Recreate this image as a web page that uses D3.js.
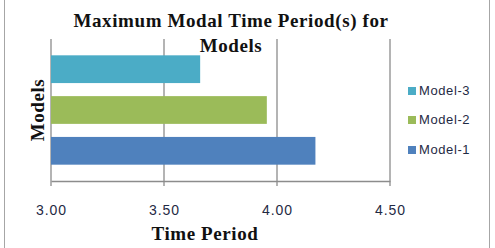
<!DOCTYPE html>
<html>
<head>
<meta charset="utf-8">
<script src="https://cdn.jsdelivr.net/npm/d3@7"></script>
<style>
  body { margin: 0; background: #fff; }
  svg { display: block; }
</style>
</head>
<body>
<svg></svg>
<script>
const models = ["Model-1", "Model-2", "Model-3"];
const periods = [4.17, 3.955, 3.66];
const colors = ["#4F81BD", "#9BBB59", "#4BACC6"];
const xTicks = [3.0, 3.5, 4.0, 4.5];

const width = 495, height = 248;
const margin = {top: 39, right: 105, bottom: 67, left: 51};

const svg = d3.select("svg")
    .attr("width", width)
    .attr("height", height);

// chart frame
svg.append("rect")
    .attr("x", 4.5).attr("y", -2)
    .attr("width", 485).attr("height", 260)
    .attr("fill", "none")
    .attr("stroke", "#a6a6a6")
    .attr("stroke-width", 1);

const x = d3.scaleLinear()
    .domain([3.0, 4.5])
    .range([51, 390]);

const y = d3.scaleBand()
    .domain(models.slice().reverse())
    .range([margin.top, height - margin.bottom])
    .paddingInner(0.32)
    .paddingOuter(0.4);

const plotBottom = height - margin.bottom;

// gridlines
svg.append("g")
    .selectAll("line")
    .data(xTicks)
    .enter()
    .append("line")
    .attr("x1", d => x(d)).attr("x2", d => x(d))
    .attr("y1", margin.top).attr("y2", plotBottom + 5)
    .attr("stroke", "#8c8c8c")
    .attr("stroke-width", 1.3);

// bars
svg.append("g")
    .selectAll("rect")
    .data(models)
    .enter()
    .append("rect")
    .attr("x", x(3.0))
    .attr("y", d => y(d))
    .attr("width", (d, i) => x(periods[i]) - x(3.0))
    .attr("height", y.bandwidth())
    .attr("fill", (d, i) => colors[i]);

// x axis
const xAxis = svg.append("g")
    .attr("transform", "translate(0," + plotBottom + ")")
    .call(d3.axisBottom(x).tickValues(xTicks).tickFormat(d3.format(".2f")).tickSize(0).tickPadding(24));

xAxis.select(".domain")
    .attr("stroke", "#8c8c8c")
    .attr("stroke-width", 1.3);

xAxis.selectAll("text")
    .attr("fill", "#1f2a44")
    .style("font-family", "'Liberation Sans', Arial, sans-serif")
    .style("font-size", "14px")
    .style("letter-spacing", "1px");

const serif = "'Liberation Serif', 'Times New Roman', serif";

// title
const title = svg.append("text")
    .attr("text-anchor", "middle")
    .style("font-family", serif)
    .style("font-weight", "bold")
    .style("font-size", "19px")
    .style("letter-spacing", "0.6px")
    .attr("fill", "#111");
title.append("tspan").attr("x", 231).attr("y", 27).text("Maximum Modal Time Period(s) for");
title.append("tspan").attr("x", 231).attr("y", 52).text("Models");

// axis titles
svg.append("text")
    .attr("x", 205).attr("y", 240)
    .attr("text-anchor", "middle")
    .style("font-family", serif)
    .style("font-weight", "bold")
    .style("font-size", "19px")
    .style("letter-spacing", "0.6px")
    .attr("fill", "#111")
    .text("Time Period");

svg.append("text")
    .attr("transform", "translate(44,110) rotate(-90)")
    .attr("text-anchor", "middle")
    .style("font-family", serif)
    .style("font-weight", "bold")
    .style("font-size", "19px")
    .style("letter-spacing", "0.6px")
    .attr("fill", "#111")
    .text("Models");

// legend
const legendY = [154, 124, 95];
const legend = svg.append("g")
    .selectAll("g")
    .data(models)
    .enter()
    .append("g")
    .attr("transform", (d, i) => "translate(408," + legendY[i] + ")");

legend.append("rect")
    .attr("x", 0).attr("y", -8)
    .attr("width", 8).attr("height", 8)
    .attr("fill", (d, i) => colors[i]);

legend.append("text")
    .attr("x", 11).attr("y", 0)
    .style("font-family", "'Liberation Sans', Arial, sans-serif")
    .style("font-size", "13px")
    .style("letter-spacing", "0.6px")
    .attr("fill", "#1f2a44")
    .text(d => d);
</script>
</body>
</html>
